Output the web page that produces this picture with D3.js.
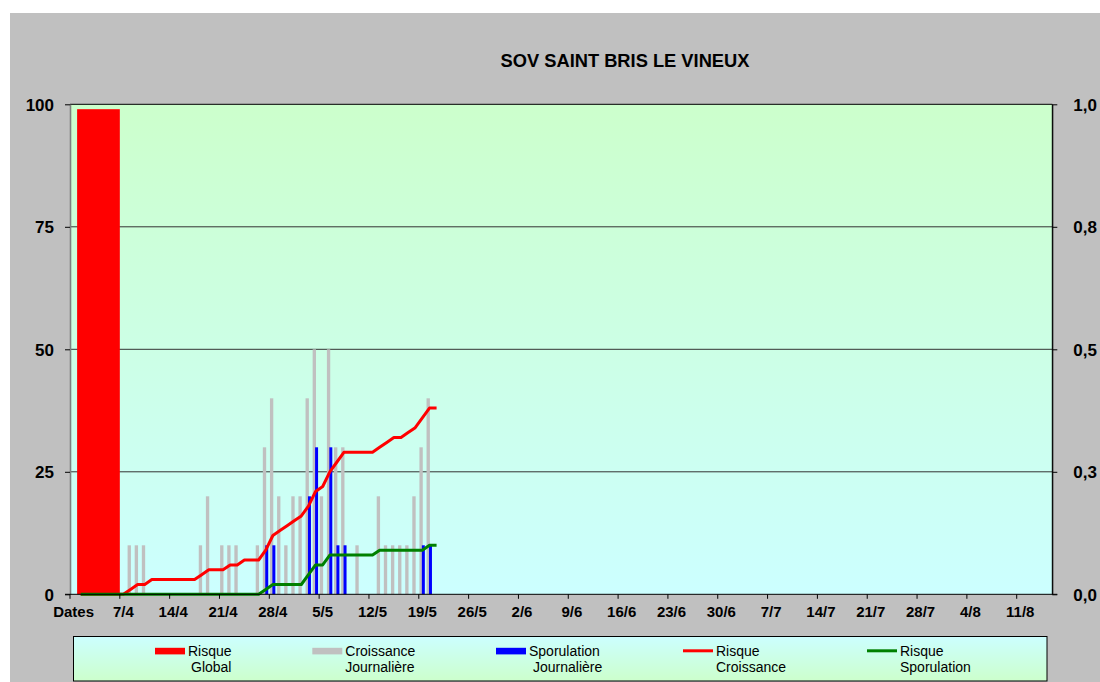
<!DOCTYPE html>
<html><head><meta charset="utf-8">
<script src="https://cdn.jsdelivr.net/npm/d3@7"></script>
<style>
body{margin:0;background:#fff}
text{font-family:"Liberation Sans",Arial,Helvetica,sans-serif;fill:#000}
</style>
</head><body>
<svg id="chart" width="1100" height="682"></svg>
<script>
// ---------------- DATA ----------------
const chartTitle = "SOV SAINT BRIS LE VINEUX";
const firstCategory = "Dates";
// months shown on the category axis: [month, number of days]
const monthDays = [[4, 30], [5, 31], [6, 30], [7, 31], [8, 15]];
const categories = [firstCategory];
monthDays.forEach(([m, n]) => { for (let d = 1; d <= n; d++) categories.push(d + "/" + m); });

const xTickLabels = ["Dates","7/4","14/4","21/4","28/4","5/5","12/5","19/5","26/5","2/6","9/6","16/6","23/6","30/6","7/7","14/7","21/7","28/7","4/8","11/8"];
const leftTickValues = [0, 25, 50, 75, 100];
const rightTickValues = [0, 0.25, 0.5, 0.75, 1];
const rightTickLabels = ["0,0", "0,3", "0,5", "0,8", "1,0"];

// Risque Global : one wide bar over the first days
const risqueGlobalSpan = ["1/4", "6/4"];
const risqueGlobalValue = 99;

// daily series, from 1/4 to 21/5
const seriesDates = categories.slice(1, 52);
const croissanceJournaliere = [0,0,0,0,0,0,0,10,10,10, 0,0,0,0,0,0,0,10,20,0, 10,10,10,0,0,10,30,40,20,10, 20,20,40,50,20,50,30,30,0,10, 0,0,20,10,10,10,10,20,30,40, 0];
const sporulationJournaliere = [0,0,0,0,0,0,0,0,0,0, 0,0,0,0,0,0,0,0,0,0, 0,0,0,0,0,0,10,10,0,0, 0,0,20,30,0,30,10,10,0,0, 0,0,0,0,0,0,0,0,10,10, 0];
const risqueCroissance = [0,0,0,0,0,0,0,0.01,0.02,0.02, 0.03,0.03,0.03,0.03,0.03,0.03,0.03,0.04,0.05,0.05, 0.05,0.06,0.06,0.07,0.07,0.07,0.09,0.12,0.13,0.14, 0.15,0.16,0.18,0.21,0.22,0.25,0.27,0.29,0.29,0.29, 0.29,0.29,0.30,0.31,0.32,0.32,0.33,0.34,0.36,0.38, 0.38];
const risqueSporulation = [0,0,0,0,0,0,0,0,0,0, 0,0,0,0,0,0,0,0,0,0, 0,0,0,0,0,0,0.01,0.02,0.02,0.02, 0.02,0.02,0.04,0.06,0.06,0.08,0.08,0.08,0.08,0.08, 0.08,0.08,0.09,0.09,0.09,0.09,0.09,0.09,0.09,0.10, 0.10];

const legendItems = [
  {l1: "Risque", l2: "Global", kind: "rect", color: "#ff0000"},
  {l1: "Croissance", l2: "Journalière", kind: "rect", color: "#c0c0c0"},
  {l1: "Sporulation", l2: "Journalière", kind: "rect", color: "#0000ff"},
  {l1: "Risque", l2: "Croissance", kind: "line", color: "#ff0000"},
  {l1: "Risque", l2: "Sporulation", kind: "line", color: "#008000"}
];

// ---------------- LAYOUT ----------------
const P = {left: 70, right: 1052.3, top: 104.3, bottom: 594.3};
const legendSwatchX = [155, 312.3, 496, 683, 867];
const legendLine2Dx = [3, 0, 4, 0, 0];

const svg = d3.select("#chart");
const defs = svg.append("defs");
const gPlot = defs.append("linearGradient").attr("id", "gPlot").attr("x1", 0).attr("y1", 0).attr("x2", 0).attr("y2", 1);
gPlot.append("stop").attr("offset", "0%").attr("stop-color", "#ccffcc");
gPlot.append("stop").attr("offset", "100%").attr("stop-color", "#ccffff");
const gLeg = defs.append("linearGradient").attr("id", "gLeg").attr("x1", 0).attr("y1", 0).attr("x2", 0).attr("y2", 1);
gLeg.append("stop").attr("offset", "0%").attr("stop-color", "#ccffff");
gLeg.append("stop").attr("offset", "100%").attr("stop-color", "#ccffcc");

// chart background
svg.append("rect").attr("x", 10).attr("y", 13).attr("width", 1090).attr("height", 669).attr("fill", "#c0c0c0");

// scales
const x = d3.scaleBand().domain(categories).range([P.left, P.right]).paddingInner(0).paddingOuter(0);
const bw = x.bandwidth();
const yL = d3.scaleLinear().domain([0, 100]).range([P.bottom, P.top]);
const yR = d3.scaleLinear().domain([0, 1]).range([P.bottom, P.top]);

// plot area
svg.append("rect").attr("x", P.left).attr("y", P.top).attr("width", P.right - P.left).attr("height", P.bottom - P.top).attr("fill", "url(#gPlot)");

// gridlines
svg.append("g").selectAll("line").data(leftTickValues.filter(v => v > 0 && v < 100)).join("line")
  .attr("x1", P.left).attr("x2", P.right).attr("y1", d => yL(d)).attr("y2", d => yL(d))
  .attr("stroke", "#333").attr("stroke-width", 1);

// Risque Global bar
svg.append("rect")
  .attr("x", x(risqueGlobalSpan[0]))
  .attr("width", x(risqueGlobalSpan[1]) + bw - x(risqueGlobalSpan[0]))
  .attr("y", yL(risqueGlobalValue)).attr("height", yL(0) - yL(risqueGlobalValue))
  .attr("fill", "#ff0000");

// daily bars
const greyData = seriesDates.map((c, i) => ({c, v: croissanceJournaliere[i]})).filter(d => d.v > 0);
const blueData = seriesDates.map((c, i) => ({c, v: sporulationJournaliere[i]})).filter(d => d.v > 0);
svg.append("g").selectAll("rect").data(greyData).join("rect")
  .attr("x", d => x(d.c) + bw * 0.09).attr("width", bw * 0.47)
  .attr("y", d => yL(d.v)).attr("height", d => yL(0) - yL(d.v)).attr("fill", "#c0c0c0");
svg.append("g").selectAll("rect").data(blueData).join("rect")
  .attr("x", d => x(d.c) + bw * 0.43).attr("width", bw * 0.42)
  .attr("y", d => yL(d.v)).attr("height", d => yL(0) - yL(d.v)).attr("fill", "#0000ff");

// lines
const line = d3.line().x(d => x(d.c) + bw / 2).y(d => yR(d.v));
svg.append("path").datum(seriesDates.map((c, i) => ({c, v: risqueCroissance[i]})))
  .attr("d", line).attr("fill", "none").attr("stroke", "#ff0000").attr("stroke-width", 3).attr("stroke-linejoin", "round");
svg.append("path").datum(seriesDates.map((c, i) => ({c, v: risqueSporulation[i]})))
  .attr("d", line).attr("fill", "none").attr("stroke", "#008000").attr("stroke-width", 3).attr("stroke-linejoin", "round");

// borders
svg.append("line").attr("x1", P.left).attr("x2", P.right).attr("y1", P.top).attr("y2", P.top).attr("stroke", "#000");
svg.append("line").attr("x1", P.right).attr("x2", P.right).attr("y1", P.top).attr("y2", P.bottom).attr("stroke", "#000");

// left axis
const axL = svg.append("g").attr("transform", `translate(${P.left},0)`)
  .call(d3.axisLeft(yL).tickValues(leftTickValues).tickSize(5).tickSizeOuter(0).tickPadding(11));
axL.select(".domain").attr("stroke", "#808080").attr("stroke-width", 1.6);
axL.selectAll(".tick line").attr("stroke", "#000");
axL.selectAll("text").style("font-size", "17px").style("font-weight", "bold").attr("dy", "0.36em");

// right axis
const axR = svg.append("g").attr("transform", `translate(${P.right},0)`)
  .call(d3.axisRight(yR).tickValues(rightTickValues).tickSize(5).tickSizeOuter(0).tickPadding(16)
    .tickFormat((d, i) => rightTickLabels[i]));
axR.select(".domain").attr("stroke", "#000");
axR.selectAll(".tick line").attr("stroke", "#000");
axR.selectAll("text").style("font-size", "17px").style("font-weight", "bold").attr("dy", "0.36em");

// bottom axis
const gx = svg.append("g");
gx.append("line").attr("x1", P.left - 5).attr("x2", P.right + 5).attr("y1", P.bottom).attr("y2", P.bottom).attr("stroke", "#000");
gx.selectAll(".tk").data(xTickLabels).join("line").attr("class", "tk")
  .attr("x1", d => x(d)).attr("x2", d => x(d)).attr("y1", P.bottom).attr("y2", P.bottom + 4.5).attr("stroke", "#000");
gx.selectAll("text").data(xTickLabels).join("text")
  .attr("x", d => x(d) + bw / 2).attr("y", 616.5).attr("text-anchor", "middle")
  .style("font-size", "15px").style("font-weight", "bold").text(d => d);

// title
svg.append("text").attr("x", 625).attr("y", 66.5).attr("text-anchor", "middle")
  .style("font-size", "18.3px").style("font-weight", "bold").text(chartTitle);

// legend
svg.append("rect").attr("x", 73.5).attr("y", 636.5).attr("width", 973.5).attr("height", 44.5)
  .attr("fill", "url(#gLeg)").attr("stroke", "#000").attr("stroke-width", 1);
const lg = svg.append("g").selectAll("g").data(legendItems).join("g")
  .attr("transform", (d, i) => `translate(${legendSwatchX[i]},0)`);
lg.filter(d => d.kind === "rect").append("rect").attr("x", 0).attr("y", 647.8).attr("width", 30).attr("height", 6.6).attr("fill", d => d.color);
lg.filter(d => d.kind === "line").append("line").attr("x1", 0).attr("x2", 30).attr("y1", 650.8).attr("y2", 650.8).attr("stroke", d => d.color).attr("stroke-width", 3);
lg.append("text").attr("x", 33).attr("y", 655.5).style("font-size", "14px").text(d => d.l1);
lg.append("text").attr("x", (d, i) => 33 + legendLine2Dx[i]).attr("y", 672).style("font-size", "14px").text(d => d.l2);
</script>
</body></html>
